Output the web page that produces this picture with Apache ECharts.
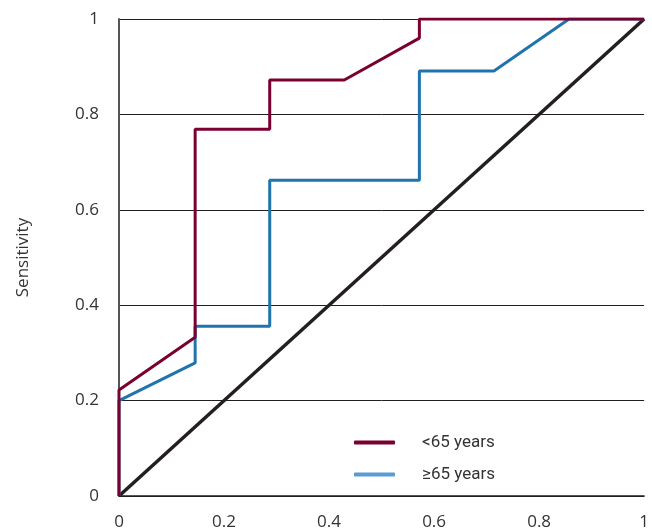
<!DOCTYPE html>
<html>
<head>
<meta charset="utf-8">
<script src="https://cdn.jsdelivr.net/npm/echarts@6/dist/echarts.min.js"></script>
<style>html,body{margin:0;padding:0;background:#fff}#c{width:652px;height:532px}</style>
</head>
<body>
<div id="c"></div>
<script>
var xTicks = [0, 0.2, 0.4, 0.6, 0.8, 1];
var yTicks = [0, 0.2, 0.4, 0.6, 0.8, 1];
var under65 = [[0,0],[0,0.222],[0.145,0.333],[0.145,0.769],[0.287,0.769],[0.287,0.872],[0.429,0.872],[0.572,0.96],[0.572,1],[1,1]];
var over65 = [[0,0],[0,0.2],[0.145,0.279],[0.145,0.356],[0.287,0.356],[0.287,0.662],[0.572,0.662],[0.572,0.891],[0.714,0.891],[0.857,1],[1,1]];
var diagonal = [[0,0],[1,1]];
var seriesNames = ['<65 years', '\u226565 years'];

var chart = echarts.init(document.getElementById('c'), null, {renderer:'canvas'});
chart.setOption({
  animation:false,
  backgroundColor:'#fff',
  grid:{left:119, right:7, top:19, bottom:36, containLabel:false},
  legend:{
    left:354, top:434, orient:'vertical', itemGap:15, padding:0,
    icon:'roundRect', itemWidth:41, itemHeight:4,
    textStyle:{fontFamily:'Roboto', fontSize:17, color:'#333', padding:[0,0,0,22]},
    data:[
      {name:seriesNames[0], itemStyle:{color:'#7a0030'}},
      {name:seriesNames[1], itemStyle:{color:'#5b9bd5'}}
    ]
  },
  xAxis:{
    type:'value', min:0, max:1, interval:0.2,
    axisLine:{show:true, onZero:false, lineStyle:{color:'#231f20', width:1.5}},
    axisTick:{show:false},
    splitLine:{show:false},
    axisLabel:{margin:18, fontFamily:'Open Sans', fontSize:17, color:'#333',
      formatter:function(v){return String(+v.toFixed(1));}}
  },
  yAxis:{
    type:'value', min:0, max:1, interval:0.2,
    name:'Sensitivity', nameLocation:'middle', nameGap:87, nameRotate:90,
    nameTextStyle:{fontFamily:'Open Sans', fontSize:17, color:'#333'},
    axisLine:{show:true, lineStyle:{color:'#555', width:2}},
    axisTick:{show:false},
    splitLine:{show:true, lineStyle:{color:'#231f20', width:1}},
    axisLabel:{margin:20, fontFamily:'Open Sans', fontSize:17, color:'#333',
      formatter:function(v){return String(+v.toFixed(1));}}
  },
  series:[
    {name:'diag', type:'line', data:diagonal, symbol:'none', silent:true,
      lineStyle:{color:'#231f20', width:3.5}, z:3},
    {name:seriesNames[1], type:'line', data:over65, symbol:'none',
      lineStyle:{color:'#1f74ad', width:3}, itemStyle:{color:'#5b9bd5'}, z:4},
    {name:seriesNames[0], type:'line', data:under65, symbol:'none',
      lineStyle:{color:'#7a0030', width:3}, itemStyle:{color:'#7a0030'}, z:5}
  ]
});
</script>
</body>
</html>
